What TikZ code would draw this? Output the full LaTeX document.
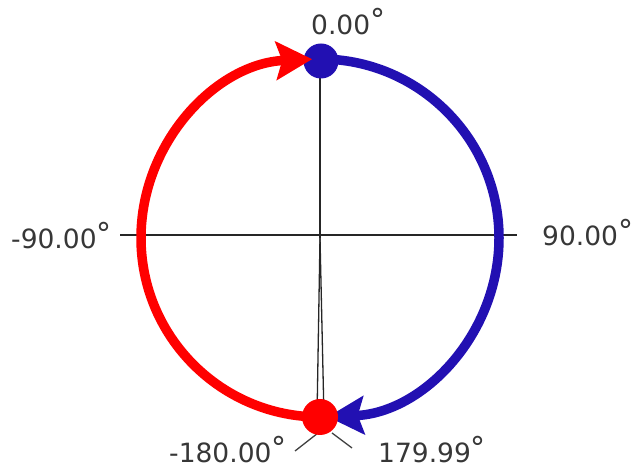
\documentclass[tikz,border=0pt]{standalone}
\usepackage{fontspec}
\setmainfont{DejaVu Sans}
\usetikzlibrary{arrows.meta}
\definecolor{arcred}{RGB}{255,0,0}
\definecolor{arcblue}{RGB}{34,16,178}
\definecolor{txtgray}{RGB}{55,55,55}
\newcommand{\dgsym}{\raisebox{4pt}{\fontsize{30}{30}\selectfont °}}
\tikzset{
  axis/.style={draw=black!85, line width=1.3pt},
  tick/.style={draw=black!75, line width=1.3pt},
  redarc/.style={draw=arcred, line width=9.5pt, -{Stealth[length=36pt,width=38pt,inset=6pt]}},
  bluearc/.style={draw=arcblue, line width=9.5pt, -{Stealth[length=36pt,width=38pt,inset=6pt]}},
  dotblue/.style={circle, fill=arcblue, minimum size=35pt, inner sep=0pt},
  dotred/.style={circle, fill=arcred, minimum size=36pt, inner sep=0pt},
  lbl/.style={inner sep=0pt, text=txtgray, font=\fontsize{26.5}{30}\selectfont, anchor=base west}
}
\begin{document}
\begin{tikzpicture}[x=1pt,y=1pt]
\useasboundingbox (0,0) rectangle (634,468);
\coordinate (c) at (320,230);
\coordinate (top) at (320,409);
\coordinate (l) at (120,233);
\coordinate (r) at (517,233);
\coordinate (bl) at (317,51);
\coordinate (br) at (324,51);
\coordinate (tl1) at (318,35);
\coordinate (tl2) at (295,17);
\coordinate (tr1) at (332,35);
\coordinate (tr2) at (352,20);
% axes
\draw[axis] (l) -- (r);
\draw[axis] (c) -- (top);
\draw[axis] (c) -- (bl);
\draw[axis] (c) -- (br);
\draw[tick] (tl1) -- (tl2);
\draw[tick] (tr1) -- (tr2);
% blue arc (clockwise from top to bottom)
\draw[bluearc] (c) ++(90:179) arc[start angle=90, end angle=-87.5, radius=179];
\node[dotblue] (bdot) at (321,407) {};
% red arc (from bottom through left to top)
\draw[redarc] (c) ++(270:179) arc[start angle=270, end angle=92.5, radius=179];
\node[dotred] (rdot) at (320,51) {};
% labels
\node[lbl] (l0) at (311,433) {0.00\dgsym};
\node[lbl] (lm90) at (11,219) {-90.00\dgsym};
\node[lbl] (l90) at (542,222) {90.00\dgsym};
\node[lbl] (lm180) at (169,5) {-180.00\dgsym};
\node[lbl] (l180) at (378,5) {179.99\dgsym};
\end{tikzpicture}
\end{document}
